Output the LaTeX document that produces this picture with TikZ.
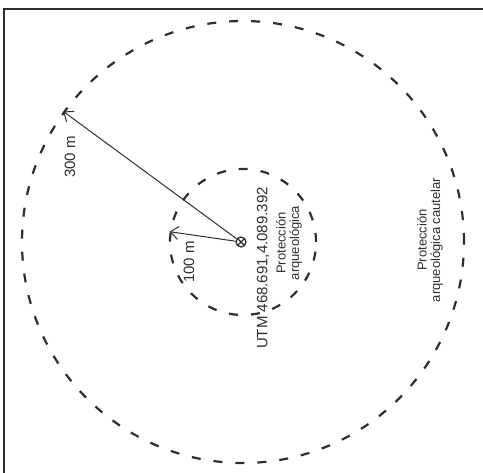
\documentclass[tikz,border=0pt]{standalone}
\usepackage{fontspec}
\setmainfont{Liberation Sans}
\usetikzlibrary{arrows.meta}
\definecolor{ink}{HTML}{2E2E2E}
\tikzset{
  zone/.style={circle, draw=ink, line width=2.2pt, dash pattern=on 9pt off 13pt, inner sep=0pt},
  radius arrow/.style={draw=ink, line width=1pt, -{Straight Barb[length=8pt,width=13pt,line width=1pt]}},
  lbl/.style={rotate=90, text=ink, inner sep=0pt, font=\fontsize{15}{16}\selectfont},
  smalllbl/.style={rotate=90, text=ink, inner sep=0pt, align=center, font=\fontsize{13}{13.5}\selectfont},
  marker/.style={circle, draw=ink, line width=1.3pt, minimum size=10pt, inner sep=0pt,
    path picture={\draw[ink, line width=1.1pt] (path picture bounding box.north west) -- (path picture bounding box.south east)
      (path picture bounding box.north east) -- (path picture bounding box.south west);}},
}
\begin{document}
\begin{tikzpicture}[x=1pt, y=-1pt]
\useasboundingbox (0,0) rectangle (483,473);
\draw[ink, line width=1.5pt] (4,473) -- (4,9) -- (483,9);
\coordinate (C) at (243,242);
\node[zone, minimum size=442pt] (outer) at (C) {};
\node[zone, minimum size=146pt] (inner) at (C) {};
\node[marker] (c) at (241,242) {};
\draw[radius arrow] (c) -- (outer.144);
\draw[radius arrow] (c) -- (inner.172);
\node[lbl] (l300) at (70,157) {300 m};
\node[lbl] (l100) at (189,262) {100 m};
\node[lbl] (utm) at (263,268) {UTM 468.691,4.089.392};
\node[smalllbl] (pa) at (289,243) {Protección\\arqueológica};
\node[smalllbl] (pac) at (430,240) {Protección\\arqueológica cautelar};
\end{tikzpicture}
\end{document}
